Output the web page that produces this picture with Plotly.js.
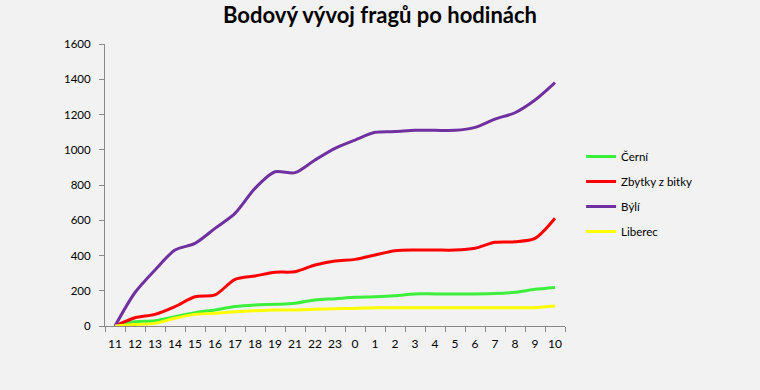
<!DOCTYPE html>
<html>
<head>
<meta charset="utf-8">
<script src="https://cdn.plot.ly/plotly-3.0.1.min.js"></script>
<style>html,body{margin:0;padding:0;background:#f2f2f2;}</style>
</head>
<body>
<div id="chart" style="width:760px;height:390px;"></div>
<script>
const hours = ["11","12","13","14","15","16","17","18","19","21","22","23","0","1","2","3","4","5","6","7","8","9","10"];
const cerni   = [0, 24, 30, 53, 76, 91, 110, 119, 123, 129, 148, 155, 163, 166, 172, 182, 182, 182, 182, 184, 191, 208, 219];
const zbytky  = [0, 47, 66, 110, 166, 176, 265, 284, 305, 308, 346, 369, 378, 403, 427, 431, 431, 431, 441, 475, 478, 497, 611];
const byli    = [0, 190, 318, 431, 469, 554, 639, 781, 875, 870, 942, 1008, 1055, 1099, 1103, 1110, 1110, 1110, 1127, 1174, 1210, 1282, 1381];
const liberec = [0, 8, 15, 44, 66, 72, 81, 87, 91, 91, 95, 98, 100, 104, 104, 104, 104, 104, 104, 104, 104, 104, 113];

const names = ["Černí", "Zbytky z bitky", "Býlí", "Liberec"];
const colors = ["#3cef3c", "#ff0000", "#7030a0", "#ffff00"];
const series = [cerni, zbytky, byli, liberec];

const traces = series.map((s, i) => ({
  x: hours, y: s, name: names[i], type: "scatter", mode: "lines",
  line: {color: colors[i], width: 3, shape: "spline", smoothing: 0.8},
  legendgroup: "g" + i
}));

const layout = {
  width: 760, height: 390,
  paper_bgcolor: "#f2f2f2", plot_bgcolor: "#f2f2f2",
  font: {family: "Lato, 'Open Sans', sans-serif", size: 11, color: "#000"},
  margin: {l: 105, r: 195, t: 44, b: 64},
  title: {text: "<b>Bodový vývoj fragů po hodinách</b>", x: 0.5, xanchor: "center", y: 0.962, yanchor: "middle", yref: "container",
          font: {size: 22, color: "#000", family: "Lato, 'Open Sans', sans-serif"}},
  xaxis: {type: "category", tickson: "boundaries", ticks: "outside", ticklen: 5, tickcolor: "#898989",
          showline: true, linecolor: "#898989", linewidth: 1, showgrid: false, zeroline: false,
          tickangle: 0, tickfont: {size: 12, color: "#000"}, ticklabelstandoff: 7, range: [-0.5, 22.5], fixedrange: true},
  yaxis: {range: [0, 1600], dtick: 200, ticks: "outside", ticklen: 5, tickcolor: "#898989",
          showline: true, linecolor: "#898989", linewidth: 1, showgrid: false, zeroline: false,
          tickfont: {size: 11.5, color: "#000"}, ticklabelstandoff: 6},
  legend: {x: 1.035, xanchor: "left", y: 0.468, yanchor: "middle", traceorder: "grouped", tracegroupgap: 6,
           bgcolor: "rgba(0,0,0,0)", font: {size: 11.5, color: "#000"}},
  showlegend: true
};

Plotly.newPlot("chart", traces, layout, {displayModeBar: false, staticPlot: true});
</script>
</body>
</html>
